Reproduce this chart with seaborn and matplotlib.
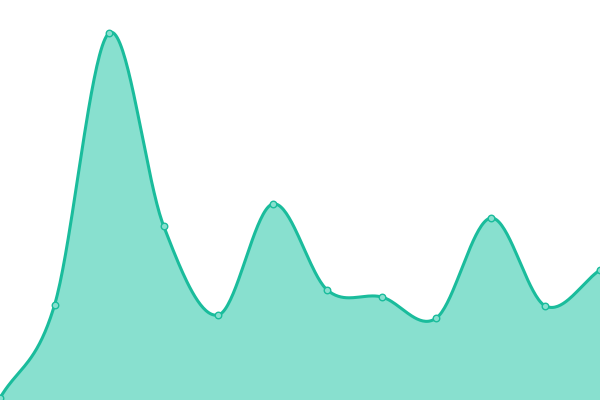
import numpy as np
import pandas as pd
import matplotlib
matplotlib.use("Agg")
import matplotlib.pyplot as plt
import seaborn as sns

# valori (12 punti equidistanti)
idx = list(range(12))
valori = [2, 95, 367, 174, 85, 196, 110, 103, 82, 182, 94, 130]

line_col = "#1abc9c"
fill_col = "#88e0cf"


def catmull_rom(x, y, n=40):
    # curva liscia che passa per i punti (solo per il disegno)
    x = np.asarray(x, float)
    y = np.asarray(y, float)
    px = np.concatenate([[2 * x[0] - x[1]], x, [2 * x[-1] - x[-2]]])
    py = np.concatenate([[2 * y[0] - y[1]], y, [2 * y[-1] - y[-2]]])
    xs, ys = [], []
    for i in range(1, len(px) - 2):
        t = np.linspace(0, 1, n, endpoint=False)
        for p, out in ((px, xs), (py, ys)):
            p0, p1, p2, p3 = p[i - 1], p[i], p[i + 1], p[i + 2]
            out.append(0.5 * (2 * p1 + (-p0 + p2) * t
                              + (2 * p0 - 5 * p1 + 4 * p2 - p3) * t ** 2
                              + (-p0 + 3 * p1 - 3 * p2 + p3) * t ** 3))
    xs.append([x[-1]])
    ys.append([y[-1]])
    return np.concatenate(xs), np.concatenate(ys)


df = pd.DataFrame({"idx": idx, "valore": valori})
cx, cy = catmull_rom(df["idx"], df["valore"])

sns.set_theme(style="white")
fig = plt.figure(figsize=(6, 4), dpi=100)
ax = fig.add_axes([0, 0, 1, 1])
ax.fill_between(cx, 0, cy, color=fill_col, linewidth=0)
sns.lineplot(x=cx, y=cy, ax=ax, color=line_col, linewidth=2.2, sort=False)
sns.scatterplot(data=df, x="idx", y="valore", ax=ax, s=22, color=fill_col,
                edgecolor=line_col, linewidth=1, zorder=5, clip_on=False)
ax.set_xlim(0, 11)
ax.set_ylim(0, 400)
ax.axis("off")
fig.savefig("out.png", dpi=100)
